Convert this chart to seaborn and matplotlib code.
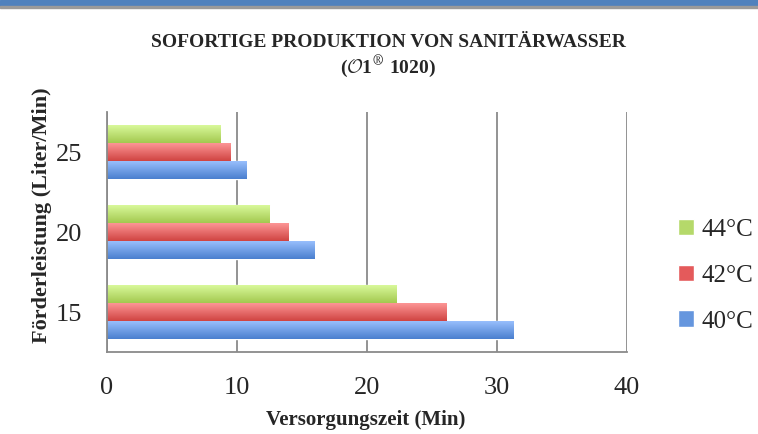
import numpy as np
import pandas as pd
import matplotlib
matplotlib.use("Agg")
import matplotlib.pyplot as plt
import matplotlib.colors as mcolors
from matplotlib.patches import Rectangle
import seaborn as sns

categories = ["25", "20", "15"]
temps = ["44°C", "42°C", "40°C"]
vals_44 = [8.7, 12.5, 22.3]
vals_42 = [9.5, 14.0, 26.1]
vals_40 = [10.7, 16.0, 31.3]

colors = {"44°C": "#B5D96A", "42°C": "#E45A5B", "40°C": "#6596DE"}
light = {"44°C": "#DCFB9E", "42°C": "#FF9A9A", "40°C": "#9CC2FF"}
dark = {"44°C": "#A3C950", "42°C": "#D04442", "40°C": "#4A7FCF"}

rows = []
for t, vals in zip(temps, [vals_44, vals_42, vals_40]):
    for c, v in zip(categories, vals):
        rows.append({"Leistung": c, "Temp": t, "Zeit": v})
df = pd.DataFrame(rows)

sns.set_style("white")
plt.rcParams["font.family"] = ["Liberation Serif", "DejaVu Serif"]
plt.rcParams["mathtext.fontset"] = "cm"

fig = plt.figure(figsize=(7.58, 4.34), dpi=100)
ax = fig.add_axes([0.1412, 0.1889, 0.686, 0.553])

sns.barplot(data=df, y="Leistung", x="Zeit", hue="Temp", order=categories,
            hue_order=temps, palette=colors, orient="h", width=0.68,
            ax=ax, saturation=1, legend=True)

# vertical gradient on each bar
grad = np.linspace(0, 1, 64).reshape(-1, 1)
for cont, t in zip(ax.containers, temps):
    cmap = mcolors.LinearSegmentedColormap.from_list(t, [light[t], dark[t]])
    for p in cont.patches:
        x0, y0 = p.get_x(), p.get_y()
        w, h = p.get_width(), p.get_height()
        im = ax.imshow(grad, cmap=cmap, aspect="auto",
                       extent=[x0, x0 + w, y0 + h, y0], zorder=p.get_zorder() + 0.1)
        im.set_clip_path(p)

ax.set_xlim(0, 40)
ax.set_ylim(2.5, -0.5)
ax.set_xticks([0, 10, 20, 30, 40])
ax.grid(axis="x", color="#8a8a8a", lw=1.3)
ax.set_axisbelow(True)
for s in ["top", "right"]:
    ax.spines[s].set_visible(False)
for s in ["left", "bottom"]:
    ax.spines[s].set_color("#8a8a8a")
    ax.spines[s].set_linewidth(1.3)
ax.tick_params(axis="x", length=6, width=1.3, color="#8a8a8a", labelsize=19, pad=12)
ax.tick_params(axis="y", length=0, labelsize=19, pad=18)
ax.set_xlabel("")
ax.set_ylabel("")

handles, labels = ax.get_legend_handles_labels()
ax.legend(handles, labels, loc="center left", bbox_to_anchor=(0.878, 0.365),
          bbox_transform=fig.transFigure, frameon=False, fontsize=18,
          handlelength=0.65, handleheight=0.65, handletextpad=0.3,
          labelspacing=0.95, borderpad=0)

fig.text(0.512, 0.903, "SOFORTIGE PRODUKTION VON SANITÄRWASSER",
         ha="center", va="center", fontsize=14, fontweight="bold")
fig.text(0.512, 0.845, r"($\mathcal{O}$1$^{\circledR}$ 1020)",
         ha="center", va="center", fontsize=14, fontweight="bold")
fig.text(0.483, 0.032, "Versorgungszeit (Min)", ha="center", va="center",
         fontsize=15, fontweight="bold")
fig.text(0.055, 0.505, "Förderleistung (Liter/Min)", ha="center", va="center",
         rotation=90, fontsize=16, fontweight="bold")

# header strip
fig.patches.append(Rectangle((0, 1 - 6 / 434), 1, 6 / 434, transform=fig.transFigure,
                             color="#4F81BD", zorder=5))
fig.patches.append(Rectangle((0, 1 - 8 / 434), 1, 2 / 434, transform=fig.transFigure,
                             color="#9a9a9a", zorder=5))

fig.savefig("out.png", dpi=100)
